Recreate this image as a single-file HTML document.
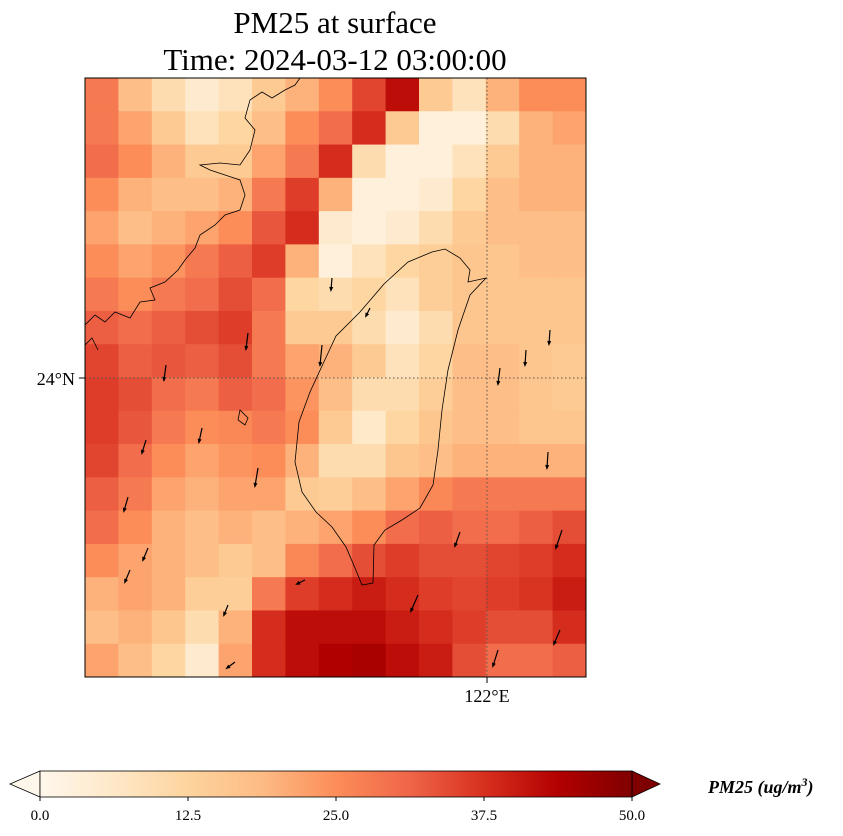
<!DOCTYPE html>
<html><head><meta charset="utf-8"><style>
body{margin:0;background:#fff;width:843px;height:836px;overflow:hidden;font-family:"Liberation Serif",serif}
svg{display:block}
</style></head><body>
<svg id="chart" width="843" height="836">
<defs>
<linearGradient id="cmap" x1="0" x2="1" y1="0" y2="0">
<stop offset="0" stop-color="#fff7ec"/><stop offset="0.125" stop-color="#fee8c8"/><stop offset="0.25" stop-color="#fdd49e"/><stop offset="0.375" stop-color="#fdbb84"/><stop offset="0.5" stop-color="#fc8d59"/><stop offset="0.625" stop-color="#ef6548"/><stop offset="0.75" stop-color="#d7301f"/><stop offset="0.875" stop-color="#b30000"/><stop offset="1" stop-color="#7f0000"/>
</linearGradient>
<clipPath id="mapclip"><rect x="85" y="78" width="501" height="599"/></clipPath>
</defs>
<text x="335" y="33" font-size="31" text-anchor="middle">PM25 at surface</text>
<text x="335" y="70" font-size="31" text-anchor="middle">Time: 2024-03-12 03:00:00</text>
<g id="cells" clip-path="url(#mapclip)"></g>
<g clip-path="url(#mapclip)" fill="none" stroke="#000" stroke-width="0.8">
<path d="M432,252 L445,249 L460,258 L470,270 L468,282 L486,278 L470,295 L458,330 L448,370 L442,410 L438,450 L433,485 L420,508 L402,520 L385,530 L374,545 L373,583 L362,585 L355,568 L346,547 L332,527 L316,512 L302,492 L295,462 L299,422 L310,392 L322,366 L336,336 L360,312 L384,284 L408,262 Z"/>
<path d="M85,325 L95,315 L105,322 L115,312 L130,318 L140,302 L155,300 L150,288 L165,282 L178,270 L185,260 L195,248 L200,235 L215,225 L225,215 L240,210 L245,195 L240,180 L225,175 L210,170 L200,165 L220,163 L240,165 L250,150 L255,130 L245,118 L250,100 L262,92 L272,98 L285,90 L295,85 L300,78 M85,345 L92,338 L98,350 M240,410 L248,418 L245,425 L238,420 Z"/>
</g>
<g id="arrows" stroke="#000" stroke-width="1.2"></g>
<line x1="487" y1="78" x2="487" y2="677" stroke="#555" stroke-dasharray="1.5,2.5"/>
<line x1="85" y1="378" x2="586" y2="378" stroke="#555" stroke-dasharray="1.5,2.5"/>
<rect x="85" y="78" width="501" height="599" fill="none" stroke="#000" stroke-width="1"/>
<line x1="79" y1="378" x2="85" y2="378" stroke="#000"/>
<text x="75" y="385" font-size="18" text-anchor="end">24°N</text>
<line x1="487" y1="677" x2="487" y2="683" stroke="#000"/>
<text x="487" y="702" font-size="18" text-anchor="middle">122°E</text>
<g>
<polygon points="40,771 10,784 40,797" fill="#fff7ec" stroke="#000" stroke-width="0.8"/>
<polygon points="632,771 660,784 632,797" fill="#7f0000" stroke="#000" stroke-width="0.8"/>
<rect x="40" y="771" width="592" height="26" fill="url(#cmap)" stroke="#000" stroke-width="0.8"/>
<g id="cbticks" font-size="15" text-anchor="middle"></g>
</g>
<text x="708" y="793" font-size="18" font-style="italic" font-weight="bold">PM25 (ug/m<tspan dy="-7" font-size="12">3</tspan><tspan dy="7">)</tspan></text>
</svg>
<script>
const cbTicks=[0,12.5,25,37.5,50];
const vmin=0, vmax=50;
const pm25=[
[28,18,10,5,8,15,20,25,35,42,15,8,20,25,25],
[28,22,15,8,12,18,25,30,38,15,3,3,10,20,22],
[30,25,20,15,15,22,28,38,10,3,3,8,15,20,20],
[25,20,18,18,20,28,36,20,3,3,5,12,18,20,20],
[22,18,20,22,25,33,38,5,3,5,10,15,18,18,18],
[25,22,24,28,32,36,20,3,8,12,14,16,16,18,18],
[28,25,28,30,34,30,12,10,12,8,14,16,16,16,16],
[32,30,32,34,36,28,15,15,10,5,10,16,16,16,16],
[35,32,33,32,34,28,22,20,15,8,12,18,18,16,15],
[36,34,30,28,32,30,24,18,10,10,14,18,18,16,15],
[36,33,28,25,26,28,25,15,6,12,16,18,18,16,16],
[35,30,25,22,24,25,20,10,10,16,18,20,20,20,20],
[32,28,22,20,22,22,15,14,18,22,26,28,28,28,28],
[30,25,20,18,20,18,20,22,25,30,32,30,30,32,34],
[25,22,20,18,15,18,26,30,34,36,34,34,35,36,38],
[20,22,20,14,14,28,36,38,40,38,36,35,36,37,40],
[18,20,16,10,20,38,42,42,42,40,38,36,34,34,38],
[22,18,12,5,22,38,42,44,45,42,40,34,30,30,32]];
const windX=[166,248,322,332,370,500,526,550,146,202,258,128,148,130,228,235,305,460,418,498,560,562,548];
const windY=[365,333,345,278,308,368,350,330,440,428,468,497,548,570,605,662,580,532,595,650,630,530,452];
const windU=[-2,-2,-2,-1,-4,-2,-1,-1,-4,-3,-3,-4,-5,-5,-4,-8,-8,-5,-7,-5,-6,-6,-1];
const windV=[15,16,20,12,8,16,15,14,13,14,18,14,12,12,10,6,4,14,16,16,14,18,16];
const colors=["#fff7ec","#fee8c8","#fdd49e","#fdbb84","#fc8d59","#ef6548","#d7301f","#b30000","#7f0000"];
function hex(c){return [1,3,5].map(i=>parseInt(c.substr(i,2),16));}
function cmap(v){let t=Math.max(0,Math.min(1,(v-vmin)/(vmax-vmin)))*8;let i=Math.min(7,Math.floor(t)),f=t-i;
 const a=hex(colors[i]),b=hex(colors[i+1]);return "rgb("+a.map((x,k)=>Math.round(x+(b[k]-x)*f)).join(",")+")";}
const NS="http://www.w3.org/2000/svg";
const X0=85,Y0=78,W=501,H=599;
const nr=pm25.length,nc=pm25[0].length;
function xPos(c){return X0+c*W/nc;}
function yPos(r){return Y0+r*H/nr;}
const cells=document.getElementById('cells');
for(let r=0;r<nr;r++)for(let c=0;c<nc;c++){
 const el=document.createElementNS(NS,'rect');
 
 
 el.setAttribute('x',xPos(c));el.setAttribute('y',yPos(r));
 el.setAttribute('width',W/nc+0.6);el.setAttribute('height',H/nr+0.6);
 el.setAttribute('fill',cmap(pm25[r][c]));cells.appendChild(el);}
const arrows=document.getElementById('arrows');
for(let i=0;i<windX.length;i++){
 const x=windX[i],y=windY[i],x2=x+windU[i],y2=y+windV[i];
 const g=document.createElementNS(NS,'g');
 
 
 const l=document.createElementNS(NS,'line');
 l.setAttribute('x1',x);l.setAttribute('y1',y);l.setAttribute('x2',x2);l.setAttribute('y2',y2);g.appendChild(l);
 const ang=Math.atan2(windV[i],windU[i]);
 const p=document.createElementNS(NS,'polygon');
 const hx=x2+Math.cos(ang)*2,hy=y2+Math.sin(ang)*2;
 const bx=x2-Math.cos(ang)*3,by=y2-Math.sin(ang)*3;
 const px=-Math.sin(ang)*2,py=Math.cos(ang)*2;
 p.setAttribute('points',hx+","+hy+" "+(bx+px)+","+(by+py)+" "+(bx-px)+","+(by-py));
 p.setAttribute('fill','#000');p.setAttribute('stroke','none');g.appendChild(p);
 arrows.appendChild(g);}
const cbt=document.getElementById('cbticks');
function cbX(v){return 40+(v-vmin)/(vmax-vmin)*592;}
cbTicks.forEach(v=>{
 const t=document.createElementNS(NS,'text');
 
 
 t.setAttribute('x',cbX(v));t.setAttribute('y',820);t.textContent=v.toFixed(1);cbt.appendChild(t);
 const l=document.createElementNS(NS,'line');
 
 
 l.setAttribute('x1',cbX(v));l.setAttribute('x2',cbX(v));l.setAttribute('y1',797);l.setAttribute('y2',801);l.setAttribute('stroke','#000');cbt.appendChild(l);});
</script>
</body></html>
